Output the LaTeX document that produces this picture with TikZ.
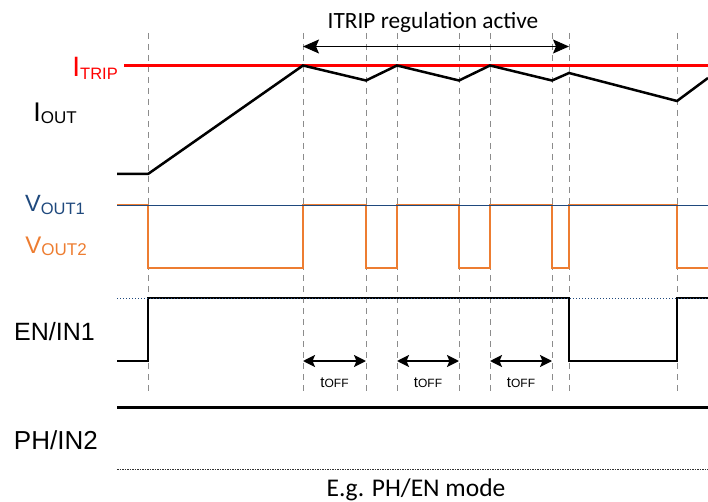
\documentclass[tikz,border=0pt]{standalone}
\usepackage{fontspec}
\setmainfont{Liberation Sans}
\newfontfamily\carlito{Carlito}
\usetikzlibrary{arrows.meta}
\definecolor{vblue}{HTML}{1F497D}
\definecolor{vorange}{HTML}{ED7D31}
\definecolor{gridgray}{HTML}{8C8C8C}
\newcommand{\setfs}[1]{\fontsize{#1}{#1}\selectfont}
\begin{document}
\begin{tikzpicture}[x=1pt,y=-1pt,
  lbl/.style={inner sep=0pt, anchor=base east},
  txt/.style={inner sep=0pt, anchor=base},
  gridline/.style={draw=gridgray, line width=1pt, dash pattern=on 6pt off 5pt},
  wave/.style={line width=2.5pt, line join=miter},
  regarrow/.style={line width=1pt, {Stealth[length=16pt,width=14pt,inset=3pt]}-{Stealth[length=16pt,width=14pt,inset=3pt]}},
  toffarrow/.style={line width=2pt, {Stealth[length=12pt,width=12pt,inset=2.5pt]}-{Stealth[length=12pt,width=12pt,inset=2.5pt]}}
]
\useasboundingbox (0,0) rectangle (708,502);

% dashed time markers
\foreach \x in {148,303,366,397,459,490,552,569,677}
  \draw[gridline] (\x,33) -- (\x,394);

% labels
\node[lbl, red] (itrip) at (118,77) {\setfs{28}I\raisebox{-3pt}{\setfs{16.5}TRIP}};
\node[lbl] (iout) at (77,121.7) {\setfs{27}I\raisebox{-2.3pt}{\setfs{17}OUT}};
\node[lbl, vblue] (vout1) at (85,211.7) {\setfs{23.5}V\raisebox{-3.3pt}{\setfs{16.5}OUT1}};
\node[lbl, vorange] (vout2) at (87,253.3) {\setfs{24}V\raisebox{-2.4pt}{\setfs{17}OUT2}};
\node[lbl] (en) at (95,340) {\setfs{25}EN/IN1};
\node[lbl] (ph) at (98,449) {\setfs{26}PH/IN2};
\node[txt] (reg) at (433,29) {\carlito\setfs{23.3}ITRIP regulation active};
\node[txt] (mode) at (416,496) {\carlito\setfs{25.5}E.g. PH/EN mode};
\node[txt] (t1) at (334.5,387) {\setfs{15}t\setfs{12}OFF};
\node[txt] (t2) at (428,387) {\setfs{15}t\setfs{12}OFF};
\node[txt] (t3) at (521,387) {\setfs{15}t\setfs{12}OFF};

% ITRIP level
\draw[red, line width=3.8pt] (124,65.5) -- (708,65.5);

% IOUT
\draw[wave] (117,174) -- (148,174) -- (303,65.5) -- (366,80.5) -- (397,65.5)
  -- (459,80.5) -- (490,65.5) -- (552,80.5) -- (569,73) -- (677,101) -- (708,78);

% VOUT2 and VOUT1
\draw[wave, vorange] (117,205) -- (148,205) -- (148,268) -- (303,268) -- (303,205)
  -- (366,205) -- (366,268) -- (397,268) -- (397,205) -- (459,205) -- (459,268)
  -- (490,268) -- (490,205) -- (552,205) -- (552,268) -- (569,268) -- (569,205)
  -- (677,205) -- (677,268) -- (708,268);
\draw[vblue, line width=0.8pt] (117,205) -- (708,205);

% EN/IN1
\draw[wave] (117,361) -- (148,361) -- (148,298) -- (569,298) -- (569,361)
  -- (677,361) -- (677,298) -- (708,298);
\draw[vblue, line width=1pt, dotted] (117,298) -- (708,298);

% PH/IN2
\draw[line width=3pt] (117,407.5) -- (708,407.5);
\draw[black!80, line width=0.9pt, dash pattern=on 1.5pt off 1pt] (117,469) -- (708,469);

% arrows
\coordinate (ra) at (303,46.5);
\coordinate (rb) at (569,46.5);
\draw[regarrow] (ra) -- (rb);
\coordinate (a1) at (303,361);
\coordinate (b1) at (366,361);
\coordinate (a2) at (397,361);
\coordinate (b2) at (459,361);
\coordinate (a3) at (490,361);
\coordinate (b3) at (552,361);
\draw[toffarrow] (a1) -- (b1);
\draw[toffarrow] (a2) -- (b2);
\draw[toffarrow] (a3) -- (b3);
\end{tikzpicture}
\end{document}
